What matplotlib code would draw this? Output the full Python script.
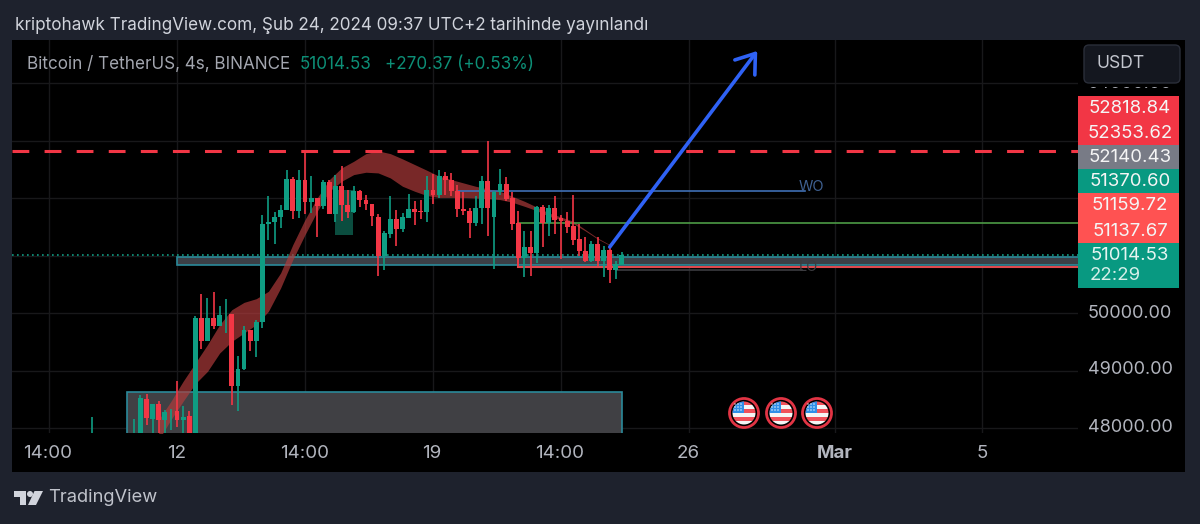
import matplotlib
matplotlib.use("Agg")
import matplotlib.pyplot as plt
from matplotlib.patches import Rectangle, Circle, Polygon, FancyBboxPatch

plt.rcParams['font.family'] = ['Inter', 'DejaVu Sans']

# candle number, 0 is the "12" tick
candle_x = [-14] + list(range(-7, 74))
opens = [47800, 47800, 47796, 48509, 48161, 48417, 48144, 48289, 48301, 48132, 48202,
         47796, 49913, 49519, 49907, 49780, 49977, 49988, 48724, 49026, 49698,
         49519, 49838, 51549, 51583, 51670, 51786, 52332, 51769, 52320, 51937,
         51995, 51868, 52274, 51717, 52204, 51885, 51752, 52117, 51972, 51902,
         51670, 50986, 51380, 51641, 51462, 51653, 51815, 51781, 51757, 52134,
         52059, 52390, 52320, 52117, 51815, 51769, 51566, 51827, 52291, 51665,
         52105, 52250, 52001, 51566, 50957, 51148, 51044, 51844, 51566, 51827,
         51653, 51595, 51508, 51288, 51085, 50899, 51206, 50899, 51102, 50742,
         50841]
highs = [48190, 48156, 48567, 48591, 48417, 48463, 48318, 48330, 48811, 48376, 48301,
         49942, 50336, 50261, 50360, 50116, 50244, 49988, 49258, 49768, 49698,
         49884, 51711, 52042, 51752, 51873, 52482, 52361, 52494, 52813, 52378,
         51995, 52308, 52320, 52407, 52552, 52146, 52204, 52146, 52047, 51902,
         51728, 51433, 52030, 51798, 51740, 52071, 51955, 51972, 52378, 52424,
         52482, 52448, 52436, 52221, 52100, 51827, 52030, 52378, 52987, 52117,
         52511, 52366, 52100, 51781, 51433, 51421, 51856, 51885, 51885, 52030,
         51711, 51752, 52059, 51549, 51317, 51247, 51322, 51160, 51189, 50899,
         51067]
lows = [47790, 47790, 47790, 48057, 47796, 47796, 47796, 47970, 48011, 47796, 47796,
        47796, 49374, 49519, 49722, 49780, 49652, 48399, 48301, 49002, 49333,
        49229, 49739, 51276, 51201, 51473, 51786, 51641, 51653, 51728, 51740,
        51322, 51810, 51717, 51578, 51595, 51653, 51740, 51844, 51798, 51508,
        50638, 50742, 51305, 51160, 51409, 51653, 51537, 51641, 51583, 51902,
        52001, 52059, 52030, 51670, 51699, 51305, 51508, 51554, 51346, 50766,
        52059, 51943, 51450, 50812, 50626, 50650, 50870, 51148, 51346, 51380,
        50940, 51392, 51189, 51000, 50882, 50882, 50812, 50626, 50522, 50592,
        50841]
closes = [47810, 47810, 48521, 48173, 48417, 48144, 48277, 48301, 48144, 48190, 47796,
          49913, 49519, 49907, 49780, 49971, 49988, 48724, 49031, 49710, 49513,
          49843, 51549, 51583, 51670, 51786, 52332, 51769, 52320, 51931, 51995,
          51868, 52279, 51717, 52216, 51885, 51752, 52129, 51972, 51902, 51682,
          50986, 51392, 51641, 51467, 51665, 51815, 51763, 51752, 52134, 52059,
          52390, 52320, 52117, 51815, 51769, 51566, 51827, 52291, 51827, 52105,
          52250, 51989, 51554, 50957, 51148, 51044, 51844, 51566, 51827, 51612,
          51595, 51496, 51276, 51085, 50899, 51206, 50899, 51090, 50742, 50853,
          51014.53]

# red ribbon, one reading every second candle
ribbon_x = list(range(-3, 73, 2))
ribbon_top = [48144, 48463, 48811, 49130, 49449, 49797, 50058, 50185, 50249, 50377,
              50696, 51189, 51624, 52001, 52320, 52523, 52639, 52772, 52819, 52772,
              52680, 52581, 52482, 52380, 52320, 52262, 52204, 52158, 52117, 52030,
              51943, 51844, 51740, 51670, 51595, 51450, 51305, 51189]
ribbon_bottom = [47796, 48144, 48463, 48770, 48985, 49304, 49507, 49652, 49797, 50029,
                 50435, 50928, 51363, 51769, 52117, 52291, 52407, 52448, 52436, 52349,
                 52204, 52117, 52042, 52010, 52010, 52010, 52001, 51989, 51972, 51926,
                 51856, 51781, 51682, 51624, 51554, 51427, 51288, 51177]

time_ticks = [-21, 0, 21, 42, 63, 84, 108, 132]
time_labels = ['14:00', '12', '14:00', '19', '14:00', '26', 'Mar', '5']
price_ticks = [48000, 49000, 50000, 51000, 52000, 53000, 54000]
axis_prices = ['54000.00', '50000.00', '49000.00', '48000.00']
tag_prices = ['52818.84', '52353.62', '52140.43', '51370.60', '51159.72', '51137.67']
tag_colors = ['#f23645', '#f23645', '#787b86', '#089981', '#ff5252', '#ff5252']

last_price = 51014.53
resistance = 52818.84
wo_level = 52127
green_level = 51565
red_level = 50805
grey_level = 50748

bg = '#1e222d'
green = '#0f9d83'
red = '#f23645'
teal = '#2b8a9a'

fig = plt.figure(figsize=(12, 5.24), dpi=100, facecolor=bg)

# back layer in pixels, the black panel
back = fig.add_axes([0, 0, 1, 1], zorder=0)
back.set_xlim(0, 1200)
back.set_ylim(524, 0)
back.axis('off')
back.add_patch(Rectangle((12, 40), 1173, 432, color='black', lw=0))

# chart area, 6.095 px per candle, 57.5 px per 1000
ax = fig.add_axes([12 / 1200, 1 - 433 / 524, 1066 / 1200, 393 / 524], zorder=1)
ax.set_facecolor('black')
ax.set_xlim((12 - 177) / 6.095, (1078 - 177) / 6.095)
ax.set_ylim(50000 - 120 / 0.0575, 50000 + 273 / 0.0575)
ax.axis('off')

for t in time_ticks:
    ax.axvline(t, color='#18181a', lw=1, zorder=1)
for p in price_ticks:
    ax.axhline(p, color='#18181a', lw=1, zorder=1)

# boxes
ax.add_patch(Rectangle((-8.2, 47850), 81.2, 48626 - 47850, facecolor='#404044',
                       edgecolor=teal, lw=1.2, zorder=2))
ax.add_patch(Rectangle((0, 50841), 160, 50979 - 50841, facecolor='#3b3f46',
                       edgecolor=teal, lw=1.2, zorder=2))
ax.add_patch(Rectangle((25.9, 51351), 3.0, 52146 - 51351, facecolor='#0b4d3f', lw=0, zorder=2))

ax.fill_between(ribbon_x, ribbon_bottom, ribbon_top, color='#b23c3c', alpha=0.68, lw=0, zorder=3)

# levels
ax.axhline(last_price, color=green, lw=1.2, ls=(0, (1, 2)), zorder=2)
ax.axhline(resistance, color=red, lw=2.2, ls=(0, (5.5, 5)), zorder=4)
ax.plot([46, 103], [wo_level, wo_level], color='#3f6fb5', lw=1.2, zorder=4)
ax.plot([56, 160], [green_level, green_level], color='#4c9a45', lw=1.2, zorder=4)
ax.plot([56, 160], [red_level, red_level], color='#e0484d', lw=1.5, zorder=4)
ax.plot([56, 56], [red_level, 50957], color='#e0484d', lw=1.2, zorder=4)
ax.plot([72, 102.5], [grey_level, grey_level], color='#3c3c40', lw=1.2, zorder=4)
ax.text(102, wo_level + 70, 'WO', color='#3f6192', fontsize=10.5, va='center', zorder=4)
ax.text(102, grey_level + 50, 'LO', color='#3c3c40', fontsize=10.5, va='center', zorder=4)

# candles
for x, o, h, l, c in zip(candle_x, opens, highs, lows, closes):
    col = green if c >= o else red
    ax.plot([x, x], [l, h], color=col, lw=1.2, zorder=5, solid_capstyle='butt')
    ax.add_patch(Rectangle((x - 0.4, min(o, c)), 0.8, max(abs(c - o), 12), facecolor=col, lw=0, zorder=5))

ax.annotate('', xy=(95.2, 54557), xytext=(71, 51148), zorder=6,
            arrowprops=dict(arrowstyle='->,head_length=0.7,head_width=0.5', color='#2f62f5', lw=2.6,
                            shrinkA=0, shrinkB=0, mutation_scale=18))

# front layer in pixels, axes text and tags
front = fig.add_axes([0, 0, 1, 1], zorder=2)
front.set_xlim(0, 1200)
front.set_ylim(524, 0)
front.axis('off')
front.patch.set_alpha(0)

front.text(15, 26, 'kriptohawk TradingView.com, Şub 24, 2024 09:37 UTC+2 tarihinde yayınlandı',
           color='#d1d4dc', fontsize=12.3, va='center')
front.text(27, 64.5, 'Bitcoin / TetherUS, 4s, BINANCE', color='#a3a6af', fontsize=12.3, va='center')
front.text(300, 64.5, '51014.53', color='#0d8f77', fontsize=12.3, va='center')
front.text(385, 64.5, '+270.37 (+0.53%)', color='#0d8f77', fontsize=12.3, va='center')

tick_px = [48, 177, 305, 432, 560, 688, 835, 982]
for px, lab in zip(tick_px, time_labels):
    front.text(px, 454, lab, color='#b2b5be', fontsize=13.5, ha='center', va='center',
               fontweight='bold' if lab == 'Mar' else 'normal')

for py, lab in zip([84, 313, 370, 428], axis_prices):
    front.text(1130, py, lab, color='#b2b5be', fontsize=13, ha='center', va='center')

front.add_patch(Rectangle((1078, 40), 107, 47, color='black', lw=0, zorder=3))
front.add_patch(FancyBboxPatch((1087, 48), 90, 32, boxstyle='round,pad=3,rounding_size=5',
                               facecolor='#14171f', edgecolor='#2a2e39', lw=1, zorder=4))
front.text(1097, 64, 'USDT', color='#c3c6ce', fontsize=12.6, va='center', zorder=5)

tag_y = [96, 121, 145, 169, 193, 219]
tag_h = [25, 24, 24, 24, 26, 24]
for y, h, lab, col in zip(tag_y, tag_h, tag_prices, tag_colors):
    front.add_patch(Rectangle((1078, y), 101, h, color=col, lw=0, zorder=3))
    front.text(1130, y + h / 2, lab, color='#f5f5f5', fontsize=13.4, ha='center', va='center', zorder=5)
front.add_patch(Rectangle((1078, 243), 101, 45, color='#089981', lw=0, zorder=3))
front.text(1130, 256, '51014.53', color='#e6f5f1', fontsize=13.4, ha='center', va='center', zorder=5)
front.text(1090, 276, '22:29', color='#d5efe9', fontsize=13.4, va='center', zorder=5)

# event flags
for cx in [744, 781, 817]:
    cy = 413
    front.add_patch(Circle((cx, cy), 14.5, facecolor='black', edgecolor='#e23444', lw=2, zorder=3))
    clip = Circle((cx, cy), 11.5, transform=front.transData)
    for i, col in enumerate(['#f0505a', '#f5f5f5', '#f0505a', '#f5f5f5', '#f0505a', '#f5f5f5']):
        s = Rectangle((cx - 12, cy - 12 + i * 4), 24, 4, color=col, lw=0, zorder=4)
        front.add_patch(s)
        s.set_clip_path(clip)
    c = Rectangle((cx - 12, cy - 12), 12, 12, color='#2f8fe8', lw=0, zorder=5)
    front.add_patch(c)
    c.set_clip_path(clip)
    for dx in [-9, -6, -3]:
        for dy in [-9, -6, -3]:
            front.add_patch(Circle((cx + dx, cy + dy), 0.7, color='white', lw=0, zorder=6))

# footer logo
logo = '#d1d4dc'
front.add_patch(Polygon([(14, 491), (26, 491), (26, 505), (20, 505), (20, 497), (14, 497)], color=logo, lw=0))
front.add_patch(Circle((30, 494), 3, color=logo, lw=0))
front.add_patch(Polygon([(34.5, 491), (43, 491), (36, 505), (28, 505)], color=logo, lw=0))
front.text(48, 498, 'TradingView', color='#c0c3cb', fontsize=13.2, va='center')

fig.savefig('out.png', dpi=100, facecolor=bg)
